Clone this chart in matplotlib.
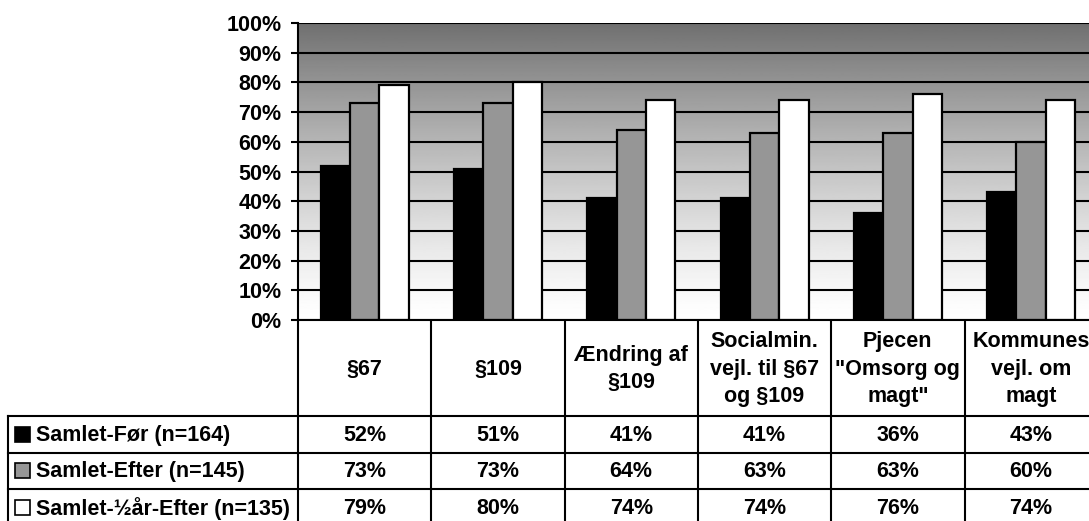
import matplotlib.pyplot as plt
from matplotlib.patches import Rectangle
import numpy as np

plt.rcParams['font.family'] = ['Liberation Sans', 'DejaVu Sans']
plt.rcParams['font.weight'] = 'bold'

CATEGORIES = ["§67", "§109", "Ændring af\n§109", "Socialmin.\nvejl. til §67\nog §109",
              "Pjecen\n\"Omsorg og\nmagt\"", "Kommunes\nvejl. om\nmagt"]
SERIES = ["Samlet-Før (n=164)", "Samlet-Efter (n=145)", "Samlet-½år-Efter (n=135)"]
FOER = [52, 51, 41, 41, 36, 43]
EFTER = [73, 73, 64, 63, 63, 60]
HALVAAR = [79, 80, 74, 74, 76, 74]
COLORS = ["#000000", "#969696", "#ffffff"]

W, H = 1089, 521
FS = 15.5
fig = plt.figure(figsize=(W / 100, H / 100), dpi=100)

# plot area in pixels
left, top, bottom = 298, 23, 320
colw = 133.3
ncat = len(CATEGORIES)
right = left + colw * ncat

ax = fig.add_axes([left / W, (H - bottom) / H, (right - left) / W, (bottom - top) / H])

# gradient background
t = np.linspace(0, 1, 256).reshape(-1, 1)
shade = 1 - (143 / 255) * t ** 1.3
ax.imshow(shade, extent=[-0.5, ncat - 0.5, 0, 100], origin='lower', aspect='auto',
          cmap='gray', vmin=0, vmax=1, zorder=0)

bw = 0.22
x = np.arange(ncat)
for j, vals in enumerate([FOER, EFTER, HALVAAR]):
    ax.bar(x + (j - 1) * bw, vals, width=bw, color=COLORS[j], edgecolor='black',
           linewidth=1.6, zorder=2)

ax.set_xlim(-0.5, ncat - 0.5)
ax.set_ylim(0, 100)
ax.set_yticks(range(0, 101, 10))
ax.set_yticklabels([f"{v}%" for v in range(0, 101, 10)], fontsize=FS, fontweight='bold')
ax.tick_params(axis='y', length=5, width=1.5, pad=7)
ax.set_xticks([])
ax.yaxis.grid(True, color='black', linewidth=1.5, zorder=1)
ax.set_axisbelow(True)
for s in ['top', 'right']:
    ax.spines[s].set_visible(False)
for s in ['left', 'bottom']:
    ax.spines[s].set_linewidth(1.5)

# data table drawn in pixel coordinates
tab = fig.add_axes([0, 0, 1, 1], zorder=-1)
tab.set_xlim(0, W)
tab.set_ylim(H, 0)
tab.axis('off')

tab_left = 8
head_bot = 416
rowh = 36.5
nrows = len(SERIES)
tab_bot = head_bot + rowh * nrows
lw = 1.5

for i in range(ncat + 1):
    xx = left + i * colw
    tab.plot([xx, xx], [bottom, tab_bot], color='black', lw=lw)
tab.plot([tab_left, tab_left], [head_bot, tab_bot], color='black', lw=lw)
for r in range(nrows + 1):
    yy = head_bot + r * rowh
    tab.plot([tab_left, right], [yy, yy], color='black', lw=lw)

for i, cat in enumerate(CATEGORIES):
    tab.text(left + (i + 0.5) * colw, (bottom + head_bot) / 2 + 1, cat, ha='center',
             va='center', fontsize=FS, fontweight='bold', linespacing=1.4)

for r, (name, vals) in enumerate(zip(SERIES, [FOER, EFTER, HALVAAR])):
    yc = head_bot + (r + 0.5) * rowh
    tab.add_patch(Rectangle((15, yc - 7.5), 15, 15, facecolor=COLORS[r],
                            edgecolor='black', lw=1.2))
    tab.text(36, yc + 1, name, ha='left', va='center', fontsize=FS, fontweight='bold')
    for i, v in enumerate(vals):
        tab.text(left + (i + 0.5) * colw, yc + 1, f"{v}%", ha='center', va='center',
                 fontsize=FS, fontweight='bold')

plt.savefig('out.png', dpi=100)
